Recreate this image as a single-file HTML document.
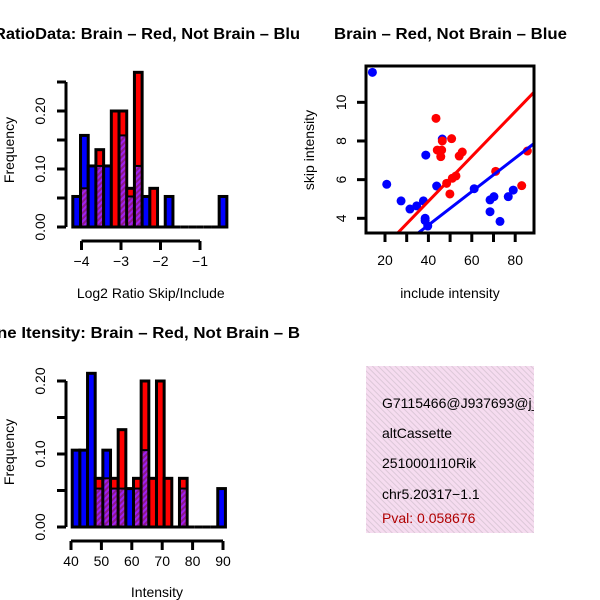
<!DOCTYPE html>
<html><head><meta charset="utf-8"><style>
html,body{margin:0;padding:0;background:#fff;}
svg{display:block;font-family:"Liberation Sans",sans-serif;}
</style></head><body>
<svg id="s" width="600" height="600" viewBox="0 0 600 600" xmlns="http://www.w3.org/2000/svg">
<defs>
<pattern id="hatch" width="4" height="4" patternUnits="userSpaceOnUse" patternTransform="rotate(45)">
<rect width="4" height="4" fill="#a020f0"/><rect width="2" height="4" fill="#8b1a8b"/></pattern>
<pattern id="pink" width="4" height="4" patternUnits="userSpaceOnUse" patternTransform="rotate(-45)">
<rect width="4" height="4" fill="#f6dcf0"/><rect width="1" height="4" fill="#dcc8d8"/></pattern>
<clipPath id="scclip"><rect x="366" y="66" width="168" height="167"/></clipPath>
<clipPath id="boxclip"><rect x="366" y="366" width="168" height="167"/></clipPath>
</defs>
<text x="-6" y="39" font-size="16" font-weight="bold" textLength="306" lengthAdjust="spacingAndGlyphs">RatioData: Brain – Red, Not Brain – Blu</text>
<text x="334" y="39" font-size="16" font-weight="bold" textLength="233" lengthAdjust="spacingAndGlyphs">Brain – Red, Not Brain – Blue</text>
<text x="-3" y="338" font-size="16" font-weight="bold" textLength="303" lengthAdjust="spacingAndGlyphs">ne Itensity: Brain – Red, Not Brain – B</text>
<g id="h1"></g>
<g id="h2"></g>
<g id="sc"></g>
<g>
<rect x="366" y="366" width="168" height="167" fill="url(#pink)"/>
<g clip-path="url(#boxclip)" font-size="14">
<text x="382" y="408">G7115466@J937693@j_</text>
<text x="382" y="438">altCassette</text>
<text x="382" y="468">2510001I10Rik</text>
<text x="382" y="499">chr5.20317−1.1</text>
<text x="382" y="523" fill="#b00000">Pval: 0.058676</text>
</g>
</g>
</svg>
<script>
// Ratio histogram data (counts per bin)
const ratioBlue=[1,3,2,2,2,0,3,1,2,1,0,0,1,0,0,0,0,0,0,1];
const ratioRed=[0,1,0,2,0,3,3,1,4,0,1,0,0,0,0,0,0,0,0,0];
const ratioStart=-4.22, ratioWidth=0.195;
const ratioXTicks=[-4,-3,-2,-1];
const ratioYTicks=[0,0.05,0.1,0.15,0.2,0.25];
// Intensity histogram data
const intBlue=[2,2,4,1,2,1,1,1,1,2,0,0,0,0,1,0,0,0,0,1];
const intRed=[0,0,0,1,1,1,2,0,1,3,1,3,1,0,1,0,0,0,0,0];
const intStart=40.4, intWidth=2.52;
const intXTicks=[40,50,60,70,80,90];
const intYTicks=[0,0.05,0.1,0.15,0.2];
// Scatter data
const blueX=[14.2,20.8,27.4,31.5,34.6,37.7,38.8,38.5,38.5,39.7,43.8,46.4,61.1,68.4,68.4,70.2,73,76.8,79.1];
const blueY=[11.55,5.76,4.9,4.48,4.64,4.9,7.27,4.0,3.88,3.6,5.67,8.1,5.53,4.34,4.95,5.12,3.84,5.12,5.46];
const redX=[43.5,44.1,46.1,45.7,46.4,50.7,48.4,49.9,51,52.7,54.2,55.6,71,83,85.6];
const redY=[9.17,7.53,7.53,7.19,8.0,8.12,5.81,5.26,6.07,6.19,7.22,7.43,6.43,5.69,7.48];
const redFit=[0.24,0.116];
const blueFit=[0.18,0.0867];
const scXTicks=[20,30,40,50,60,70,80];
const scXLabels=[20,40,60,80];
const scYTicks=[4,6,8,10];

const NS='http://www.w3.org/2000/svg';
function mk(p,tag,a){const e=document.createElementNS(NS,tag);for(const k in a)e.setAttribute(k,a[k]);p.appendChild(e);return e;}

function hist(g,blue,red,start,w,nb,nr,xs,ys,xt,yt,yl,xlab,xaxY,xaxR,yaxX,yaxR,xlabY){
  for(let i=0;i<blue.length;i++){
    const b=blue[i]/nb, r=red[i]/nr, x0=xs(start+i*w), x1=xs(start+(i+1)*w);
    if(b===0&&r===0){
      const ln=mk(g,'line',{x1:x0,x2:x1,y1:ys(0),y2:ys(0),stroke:'#000','stroke-width':3});
      
      
      continue;}
    const top=Math.max(b,r), mn=Math.min(b,r);
    const bar=mk(g,'rect',{x:x0,y:ys(top),width:x1-x0,height:ys(0)-ys(top),fill:b>=r?'#0000ff':'#ff0000',stroke:'#000','stroke-width':3});
    
    
    if(mn>0){
      const ov=mk(g,'rect',{x:x0+1.5,y:ys(mn),width:x1-x0-3,height:ys(0)-ys(mn)-1.5,fill:'url(#hatch)'});
      
      
      mk(g,'line',{x1:x0,x2:x1,y1:ys(mn),y2:ys(mn),stroke:'#000','stroke-width':2});
    }
  }
  mk(g,'line',{x1:xs(xaxR[0]),x2:xs(xaxR[1]),y1:xaxY,y2:xaxY,stroke:'#000','stroke-width':3});
  xt.forEach(v=>{mk(g,'line',{x1:xs(v),x2:xs(v),y1:xaxY,y2:xaxY+9,stroke:'#000','stroke-width':3});
    const t=mk(g,'text',{x:xs(v),y:xaxY+25,'font-size':14,'text-anchor':'middle'});t.textContent=String(v).replace('-','−');
    
    });
  mk(g,'line',{x1:yaxX,x2:yaxX,y1:ys(yaxR[0]),y2:ys(yaxR[1]),stroke:'#000','stroke-width':3});
  yt.forEach((v,i)=>{mk(g,'line',{x1:yaxX-9,x2:yaxX,y1:ys(v),y2:ys(v),stroke:'#000','stroke-width':3});
    if(i%2===0){const t=mk(g,'text',{x:0,y:0,'font-size':14,'text-anchor':'middle',transform:`translate(${yaxX-21},${ys(v)}) rotate(-90)`});t.textContent=v.toFixed(2);
    
    }});
  const xl=mk(g,'text',{x:(xs(xaxR[0])+xs(xaxR[1]))/2+10,y:xlabY,'font-size':14,'text-anchor':'middle'});xl.textContent=xlab;
  
  
  const ylb=mk(g,'text',{x:0,y:0,'font-size':14,'text-anchor':'middle',transform:`translate(14,${yl}) rotate(-90)`});ylb.textContent='Frequency';
  
  
}
const h1=document.getElementById('h1');
hist(h1,ratioBlue,ratioRed,ratioStart,ratioWidth,19,15,v=>121+(v+3)*39.5,v=>227-v*580,ratioXTicks,ratioYTicks,150,'Log2 Ratio Skip/Include',241,[-4,-1],66,[0,0.25],298);
const h2=document.getElementById('h2');
hist(h2,intBlue,intRed,intStart,intWidth,19,15,v=>71+(v-40)*3.04,v=>527-v*730,intXTicks,intYTicks,452,'Intensity',541,[40,90],66,[0,0.2],597);

const sc=document.getElementById('sc');
const sx=v=>385+(v-20)*2.17, sy=v=>218.3-(v-4)*19.33;
const pg=mk(sc,'g',{'clip-path':'url(#scclip)'});
blueX.forEach((x,i)=>{const c=mk(pg,'circle',{cx:sx(x),cy:sy(blueY[i]),r:4.5,fill:'#0000ff'});
  
  });
redX.forEach((x,i)=>{const c=mk(pg,'circle',{cx:sx(x),cy:sy(redY[i]),r:4.5,fill:'#ff0000'});
  
  });
[[redFit,'#ff0000','red-fit-line'],[blueFit,'#0000ff','blue-fit-line']].forEach(([f,c,n])=>{
  const l=mk(pg,'line',{x1:sx(0),y1:sy(f[0]),x2:sx(100),y2:sy(f[0]+f[1]*100),stroke:c,'stroke-width':3});
  
  });
mk(sc,'rect',{x:366,y:66,width:168,height:167,fill:'none',stroke:'#000','stroke-width':3});
scXTicks.forEach(v=>mk(sc,'line',{x1:sx(v),x2:sx(v),y1:233,y2:242,stroke:'#000','stroke-width':3}));
scXLabels.forEach(v=>{const t=mk(sc,'text',{x:sx(v),y:265,'font-size':14,'text-anchor':'middle'});t.textContent=v;
  
  });
scYTicks.forEach(v=>{mk(sc,'line',{x1:357,x2:366,y1:sy(v),y2:sy(v),stroke:'#000','stroke-width':3});
  const t=mk(sc,'text',{x:0,y:0,'font-size':14,'text-anchor':'middle',transform:`translate(346,${sy(v)}) rotate(-90)`});t.textContent=v;
  
  });
const sxl=mk(sc,'text',{x:450,y:298,'font-size':14,'text-anchor':'middle'});sxl.textContent='include intensity';


const syl=mk(sc,'text',{x:0,y:0,'font-size':14,'text-anchor':'middle',transform:'translate(314,150) rotate(-90)'});syl.textContent='skip intensity';


</script>
</body></html>
